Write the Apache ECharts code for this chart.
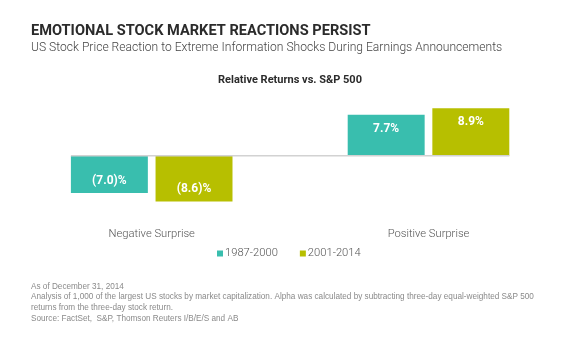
<!DOCTYPE html>
<html><head><meta charset="utf-8">
<script src="https://cdn.jsdelivr.net/npm/echarts@6/dist/echarts.min.js"></script>
<style>html,body{margin:0;padding:0;background:#fff}#c{width:580px;height:345px}</style>
</head><body><div id="c"></div>
<script>
var categories = ['Negative Surprise', 'Positive Surprise'];
var seriesNames = ['1987-2000', '2001-2014'];
var values1987 = [-7.0, 7.7];
var values2001 = [-8.6, 8.9];
var colors = ['#39beae', '#b7bf00'];

var titleText = 'EMOTIONAL STOCK MARKET REACTIONS PERSIST';
var subtitleText = 'US Stock Price Reaction to Extreme Information Shocks During Earnings Announcements';
var chartTitleText = 'Relative Returns vs. S&P 500';
var footnoteLines = [
  'As of December 31, 2014',
  'Analysis of 1,000 of the largest US stocks by market capitalization. Alpha was calculated by subtracting three-day equal-weighted S&P 500',
  'returns from the three-day stock return.',
  'Source: FactSet,  S&P, Thomson Reuters I/B/E/S and AB'
];

var BAR_W = 0.278, BAR_GAP = 0.10;

function fmt(v) {
  return v < 0 ? '(' + Math.abs(v).toFixed(1) + ')%' : v.toFixed(1) + '%';
}
function makeData(arr) {
  return arr.map(function (v) {
    return {
      value: v,
      label: v < 0 ? { position: 'insideBottom', distance: 6 } : { position: 'insideTop', distance: 8 }
    };
  });
}
var labelStyle = {
  show: true, color: '#ffffff', fontFamily: 'Roboto', fontWeight: 'bold', fontSize: 12,
  formatter: function (p) { return fmt(p.value); }
};

var chart = echarts.init(document.getElementById('c'), null, { renderer: 'canvas' });
chart.setOption({
  animation: false,
  backgroundColor: '#ffffff',
  title: [
    { text: titleText, left: 31, top: 22, padding: 0,
      textStyle: { fontFamily: 'Roboto', fontWeight: 'bold', fontSize: 14.6, lineHeight: 18, color: '#2b2b2b' } },
    { text: subtitleText, left: 31, top: 39.5, padding: 0,
      textStyle: { fontFamily: 'Roboto', fontWeight: 300, fontSize: 12.1, lineHeight: 16, color: '#444444' } },
    { text: chartTitleText, left: 'center', top: 73.5, padding: 0,
      textStyle: { fontFamily: 'Roboto', fontWeight: 'bold', fontSize: 11, lineHeight: 14, color: '#2b2b2b' } },
    { text: footnoteLines.join('\n'), left: 31, top: 281, padding: 0,
      textStyle: { fontFamily: 'Liberation Sans', fontWeight: 'normal', fontSize: 8.2, lineHeight: 10.7, color: '#8a8a8a' } }
  ],
  legend: {
    data: seriesNames, left: 217, top: 248, padding: 0, itemGap: 22,
    icon: 'rect', itemWidth: 6, itemHeight: 6,
    textStyle: { fontFamily: 'Roboto', fontWeight: 300, fontSize: 11.2, color: '#555555', padding: [0, 0, 0, -3] }
  },
  grid: { left: 13.3, right: 13.1, top: 102.5, bottom: 136.1, containLabel: false },
  xAxis: {
    type: 'category', data: categories,
    axisLine: { show: false, onZero: false }, axisTick: { show: false },
    axisLabel: { margin: 20, fontFamily: 'Roboto', fontWeight: 300, fontSize: 11.2, color: '#555555' },
    splitLine: { show: false }
  },
  yAxis: {
    type: 'value', min: -10, max: 10, interval: 5, show: false,
    splitLine: { show: false }
  },
  series: [
    { name: seriesNames[0], type: 'bar', data: makeData(values1987), barWidth: (BAR_W * 100) + '%', barGap: (BAR_GAP * 100) + '%',
      itemStyle: { color: colors[0] }, label: labelStyle, z: 3 },
    { name: seriesNames[1], type: 'bar', data: makeData(values2001), barWidth: (BAR_W * 100) + '%', barGap: (BAR_GAP * 100) + '%',
      itemStyle: { color: colors[1] }, label: labelStyle, z: 3 },
    { name: 'zero', type: 'custom', data: [[0, 0]], z: 4, silent: true,
      renderItem: function (params, api) {
        var band = api.size([1, 0])[0];
        var half = band * BAR_W * (2 + BAR_GAP) / 2;
        var a = api.coord([categories[0], 0]);
        var b = api.coord([categories[categories.length - 1], 0]);
        return { type: 'line', shape: { x1: a[0] - half, y1: a[1], x2: b[0] + half, y2: b[1] },
          style: { stroke: '#d2d2d2', lineWidth: 1.5 } };
      } }
  ]
});
</script></body></html>
